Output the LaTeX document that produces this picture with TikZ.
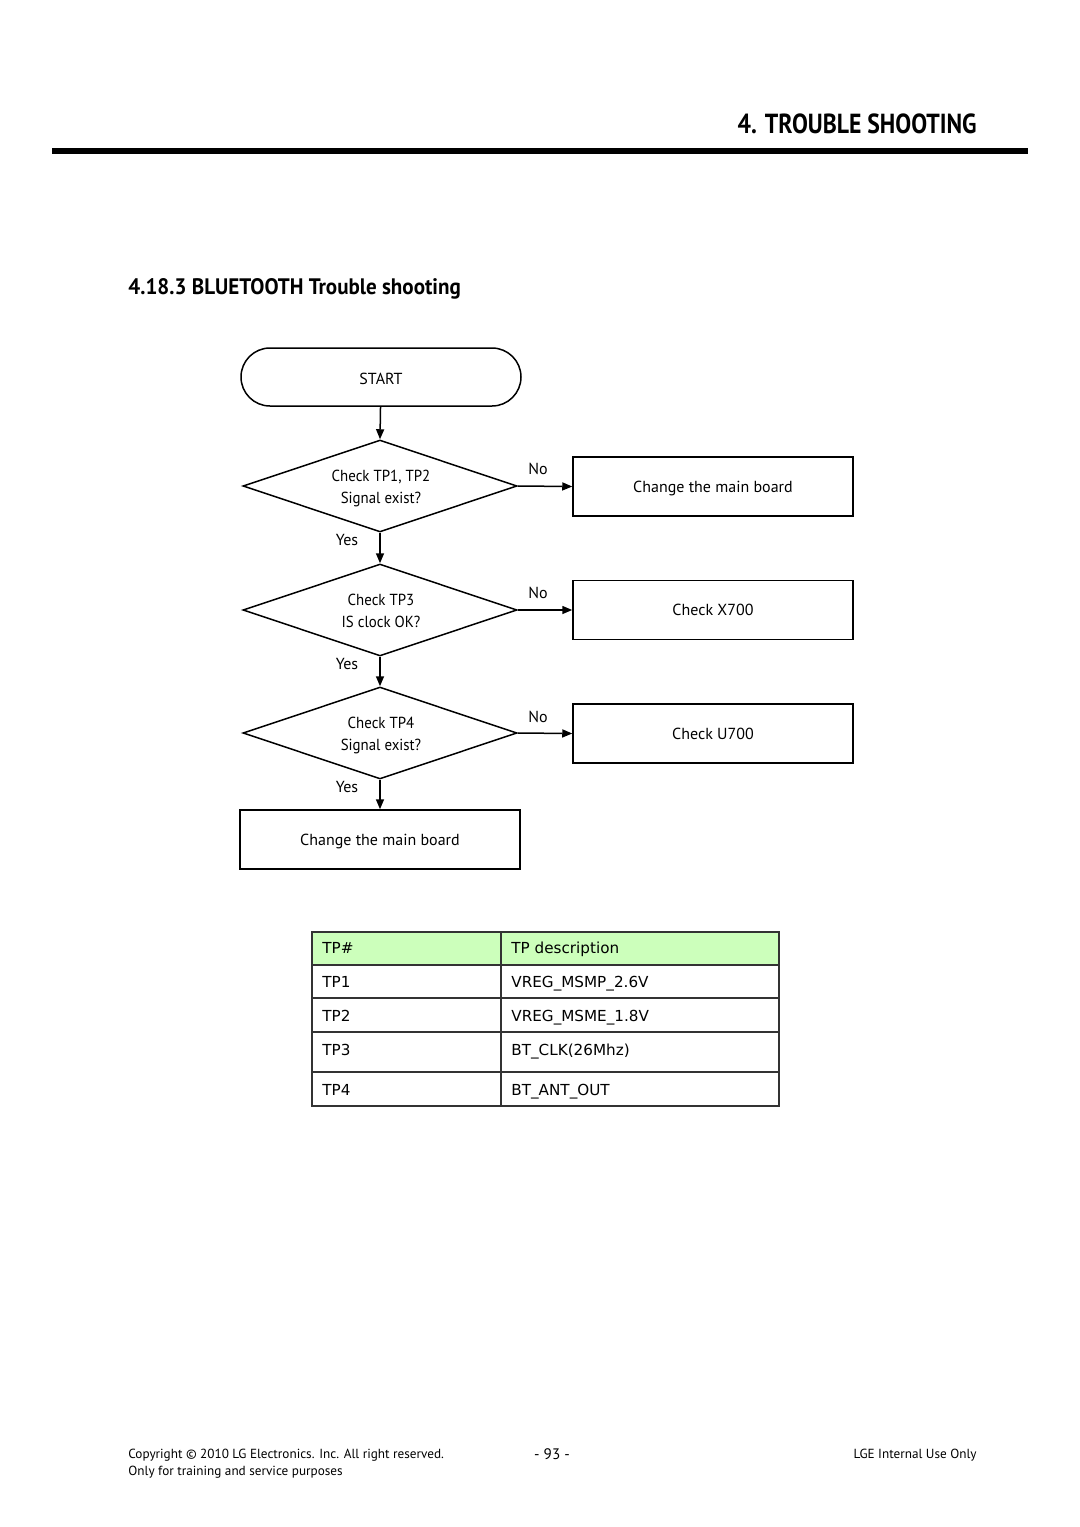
\documentclass[tikz,border=0pt]{standalone}
\usepackage{fontspec}
\setmainfont{PT Sans}
\newfontfamily\headfont[FakeStretch=0.86]{PT Sans}
\newfontfamily\titlefont[FakeStretch=0.94]{PT Sans}
\newfontfamily\flowfont{PT Sans}
\newfontfamily\diafont[FakeStretch=0.93]{PT Sans}
\newfontfamily\tabfont{DejaVu Sans}
\usetikzlibrary{shapes.geometric,arrows.meta}
\definecolor{hdrgreen}{HTML}{CCFFBB}
\definecolor{tabline}{HTML}{333333}
\tikzset{
  flowline/.style={line width=0.75pt,draw=black},
  arr/.style={flowline,-{Triangle[length=5pt,width=4pt]}},
  startbox/.style={draw,line width=0.75pt,rounded corners=14.5pt,minimum width=140pt,minimum height=29pt,inner sep=0pt,text height=7.8pt,text depth=0pt,font=\flowfont\fontsize{8}{10}\selectfont},
  decision/.style={draw,line width=0.75pt,diamond,aspect=3,minimum width=137pt,minimum height=46pt,inner sep=0pt},
  diatext/.style={align=center,inner sep=0pt,font=\diafont\fontsize{8}{11}\selectfont},
  actbox/.style={draw,line width=0.75pt,minimum width=140pt,minimum height=29.5pt,inner sep=0pt,text height=5.8pt,text depth=0pt,font=\flowfont\fontsize{8}{10}\selectfont},
  lbl/.style={font=\flowfont\fontsize{8}{10}\selectfont,inner sep=0pt,text height=5.6pt,text depth=0pt},
  tabtxt/.style={font=\tabfont\fontsize{7.6}{9}\selectfont,anchor=west,inner sep=0pt,text height=5.5pt,text depth=0pt},
  foot/.style={font=\flowfont\fontsize{6.6}{8}\selectfont,inner sep=0pt}
}
\begin{document}
\begin{tikzpicture}[x=0.5pt,y=-0.5pt]
\useasboundingbox[fill=white] (0,0) rectangle (1080,1527);
% header
\node[anchor=base east,inner sep=0pt,font=\headfont\bfseries\fontsize{13.8}{16}\selectfont] (head) at (977,133) {4. TROUBLE SHOOTING};
\draw[line width=2.6pt] (52,151) coordinate (rl) -- (1028,151) coordinate (rr);
\node[anchor=base west,inner sep=0pt,font=\titlefont\bfseries\fontsize{11.2}{13}\selectfont] (title) at (128,294) {4.18.3 BLUETOOTH Trouble shooting};
% flowchart
\node[startbox] (start) at (381,377) {START};
\node[decision] (d1) at (380,486) {};
\node[decision] (d2) at (380,610) {};
\node[decision] (d3) at (380,733) {};
\node[diatext] (t1) at (381,488) {Check TP1, TP2\\Signal exist?};
\node[diatext] (t2) at (381,611) {Check TP3\\IS clock OK?};
\node[diatext] (t3) at (381,735) {Check TP4\\Signal exist?};
\node[actbox] (b1) at (713,486.5) {Change the main board};
\node[actbox] (b2) at (713,610) {Check X700};
\node[actbox] (b3) at (713,733.5) {Check U700};
\node[actbox] (b4) at (380,839.5) {Change the main board};
\draw[arr] (start) -- (d1.north);
\draw[arr] (d1.south) -- (d2.north);
\draw[arr] (d2.south) -- (d3.north);
\draw[arr] (d3.south) -- (b4.north);
\draw[arr] (d1.east) -- (b1.west);
\draw[arr] (d2.east) -- (b2.west);
\draw[arr] (d3.east) -- (b3.west);
\node[lbl] (n1) at (538,469) {No};
\node[lbl] (n2) at (538,593) {No};
\node[lbl] (n3) at (538,717) {No};
\node[lbl] (y1) at (347,540) {Yes};
\node[lbl] (y2) at (347,664) {Yes};
\node[lbl] (y3) at (347,787) {Yes};
% table
\fill[hdrgreen] (312,932) rectangle (779,965);
\draw[tabline,line width=0.6pt] (312,932) rectangle (779,1106);
\draw[tabline,line width=0.6pt] (501,932) -- (501,1106);
\draw[tabline,line width=0.6pt] (312,965) -- (779,965);
\draw[tabline,line width=0.6pt] (312,998) -- (779,998);
\draw[tabline,line width=0.6pt] (312,1032) -- (779,1032);
\draw[tabline,line width=1pt] (312,1072) -- (779,1072);
\draw[tabline,line width=1pt] (312,1106) -- (779,1106);
\node[tabtxt] (h1) at (322,948) {TP\#};
\node[tabtxt] (h2) at (511,948) {TP description};
\node[tabtxt] (r1a) at (322,982) {TP1};
\node[tabtxt] (r1b) at (511,982) {VREG\_MSMP\_2.6V};
\node[tabtxt] (r2a) at (322,1016) {TP2};
\node[tabtxt] (r2b) at (511,1016) {VREG\_MSME\_1.8V};
\node[tabtxt] (r3a) at (322,1050) {TP3};
\node[tabtxt] (r3b) at (511,1050) {BT\_CLK(26Mhz)};
\node[tabtxt] (r4a) at (322,1090) {TP4};
\node[tabtxt] (r4b) at (511,1090) {BT\_ANT\_OUT};
% footer
\node[foot,anchor=base west] (f1) at (128,1458) {Copyright © 2010 LG Electronics. Inc. All right reserved.};
\node[foot,anchor=base west] (f2) at (128,1475) {Only for training and service purposes};
\node[foot,anchor=base] (f3) at (552,1459) {\fontsize{7.6}{9}\selectfont - 93 -};
\node[foot,anchor=base east] (f4) at (977,1458) {LGE Internal Use Only};
\end{tikzpicture}
\end{document}
